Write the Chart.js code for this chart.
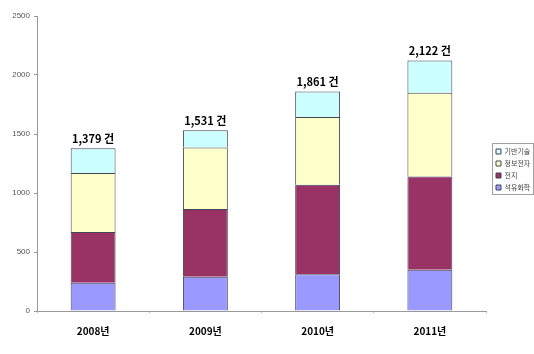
<!DOCTYPE html>
<html>
<head>
<meta charset="utf-8">
<script src="https://cdn.jsdelivr.net/npm/chart.js@4.4.1/dist/chart.umd.min.js"></script>
<style>
  html, body { margin: 0; padding: 0; background: #fff; }
  #wrap { width: 534px; height: 354px; position: relative; }
</style>
</head>
<body>
<div id="wrap"><canvas id="chart"></canvas></div>
<script>
var years = ['2008년', '2009년', '2010년', '2011년'];
var petro = [240, 290, 312, 349];     // 석유화학
var battery = [430, 574, 758, 791];   // 전지
var infoElec = [500, 521, 574, 710];  // 정보전자
var baseTech = [209, 146, 217, 272];  // 기반기술
var totals = [1379, 1531, 1861, 2122];
var yTicks = [0, 500, 1000, 1500, 2000, 2500];

var KR_FONT = '"Noto Sans CJK KR", "Liberation Sans", sans-serif';

// total label above each stack
var totalLabels = {
    id: 'totalLabels',
    afterDatasetsDraw: function (chart) {
        var ctx = chart.ctx;
        var x = chart.scales.x, y = chart.scales.y;
        ctx.save();
        ctx.font = 'bold 11px ' + KR_FONT;
        ctx.fillStyle = '#000';
        ctx.textAlign = 'center';
        ctx.textBaseline = 'bottom';
        for (let i = 0; i < totals.length; i++) {
            var txt = totals[i].toLocaleString('en-US') + ' 건';
            ctx.fillText(txt, x.getPixelForValue(i), y.getPixelForValue(totals[i]) - 4);
        }
        ctx.restore();
    }
};

// nudge the legend a little right/down, and frame it
var LEGEND_DX = 5, LEGEND_DY = 6;
var legendBox = {
    id: 'legendBox',
    afterLayout: function (chart) {
        var lg = chart.legend;
        if (!lg) return;
        lg.left += LEGEND_DX; lg.right += LEGEND_DX;
        lg.top += LEGEND_DY; lg.bottom += LEGEND_DY;
    },
    afterDraw: function (chart) {
        var lg = chart.legend;
        if (!lg || !lg.columnSizes || !lg.columnSizes.length) return;
        var pad = lg.options.labels.padding;
        var colH = lg.columnSizes[0].height;
        var y0 = (lg.top + pad + lg.bottom - colH) / 2;
        var top = Math.round(y0) - 4.5;
        var bottom = Math.round(y0 + colH - pad) + 3.5;
        var left = Math.round(lg.left + pad) - 3.5;
        var ctx = chart.ctx;
        ctx.save();
        ctx.strokeStyle = '#a0a0a0';
        ctx.lineWidth = 1;
        ctx.strokeRect(left, top, 533.5 - left, bottom - top);
        ctx.restore();
    }
};

function ds(label, data, color) {
    return {
        label: label,
        data: data,
        backgroundColor: color,
        borderColor: '#444455',
        borderWidth: 1,
        borderSkipped: 'start'
    };
}

new Chart(document.getElementById('chart'), {
    type: 'bar',
    data: {
        labels: years,
        datasets: [
            ds('석유화학', petro, '#9999FF'),
            ds('전지', battery, '#993366'),
            ds('정보전자', infoElec, '#FFFFCC'),
            ds('기반기술', baseTech, '#CCFFFF')
        ]
    },
    options: {
        responsive: true,
        maintainAspectRatio: false,
        animation: false,
        datasets: { bar: { categoryPercentage: 0.4, barPercentage: 1.0 } },
        layout: { padding: { top: 16, left: 0, right: 0, bottom: 5 } },
        scales: {
            x: {
                stacked: true,
                grid: { display: true, drawOnChartArea: false, tickLength: 2, color: '#bbb' },
                border: { color: '#999', width: 1 },
                ticks: {
                    color: '#000',
                    padding: 12,
                    font: { family: KR_FONT, size: 10, weight: 'bold' }
                }
            },
            y: {
                stacked: true,
                min: 0,
                max: 2500,
                afterBuildTicks: function (axis) {
                    axis.ticks = yTicks.map(function (v) { return { value: v }; });
                },
                afterFit: function (axis) { axis.width = 37; },
                grid: { display: true, drawOnChartArea: false, tickLength: 3, color: '#999' },
                border: { color: '#999', width: 1 },
                ticks: {
                    color: '#555',
                    padding: 4,
                    callback: function (v) { return String(v); },
                    font: { family: '"Liberation Sans", sans-serif', size: 8 }
                }
            }
        },
        plugins: {
            legend: {
                position: 'right',
                fullSize: false,
                reverse: true,
                maxWidth: 48,
                labels: {
                    boxWidth: 5,
                    boxHeight: 5,
                    padding: 5,
                    color: '#444',
                    font: { family: KR_FONT, size: 7 }
                }
            },
            tooltip: { enabled: false }
        }
    },
    plugins: [totalLabels, legendBox]
});
</script>
</body>
</html>
